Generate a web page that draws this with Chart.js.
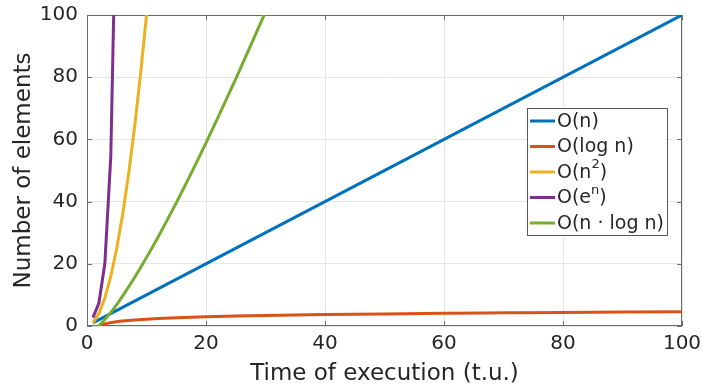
<!DOCTYPE html>
<html>
<head>
<meta charset="utf-8">
<script src="https://cdn.jsdelivr.net/npm/chart.js@4.4.0/dist/chart.umd.min.js"></script>
<style>
  html, body { margin: 0; padding: 0; background: #fff; }
  #wrap { width: 702px; height: 388px; }
</style>
</head>
<body>
<div id="wrap"><canvas id="chart" width="702" height="388"></canvas></div>
<script>
// series
const seriesLabels = ['O(n)', 'O(log n)', 'O(n²)', 'O(eⁿ)', 'O(n · log n)'];
const seriesColors = ['#0072bd', '#d95319', '#edb120', '#7e2f8e', '#77ac30'];

const linearX = [1, 100];
const linearY = [1, 100];

const logX = [2, 3, 4, 5, 6, 7, 8, 10, 12, 15, 20, 25, 30, 40, 50, 60, 70, 80, 90, 100];
const logY = [0, 0.69, 1.1, 1.39, 1.61, 1.79, 1.95, 2.2, 2.4, 2.64, 2.94, 3.18, 3.37, 3.66, 3.89, 4.08, 4.23, 4.37, 4.49, 4.6];

const squareX = [1, 2, 3, 4, 5, 6, 7, 8, 9, 10, 11];
const squareY = [1, 4, 9, 16, 25, 36, 49, 64, 81, 100, 121];

const expX = [1, 2, 3, 4, 5];
const expY = [2.7, 7.4, 20.1, 54.6, 148.4];

const nlogX = [2, 3, 4, 5, 6, 8, 10, 12, 15, 18, 20, 22, 25, 28, 30];
const nlogY = [0, 2.1, 4.4, 6.9, 9.7, 15.6, 22, 28.8, 39.6, 51, 58.9, 67, 79.5, 92.3, 101];

const xTicks = [0, 20, 40, 60, 80, 100];
const yTicks = [0, 20, 40, 60, 80, 100];

const textColor = '#262626';
const fontFamily = '"DejaVu Sans", sans-serif';

function toPoints(xs, ys) {
    return xs.map((x, i) => ({ x, y: ys[i] }));
}

const seriesData = [
    toPoints(linearX, linearY),
    toPoints(logX, logY),
    toPoints(squareX, squareY),
    toPoints(expX, expY),
    toPoints(nlogX, nlogY)
];

// MATLAB style box with inward ticks
const axesBox = {
    id: 'axesBox',
    beforeDatasetsDraw(chart) {
        const { ctx, chartArea: a, scales: { x, y } } = chart;
        const tick = 5;
        ctx.save();
        ctx.strokeStyle = '#6b6b6b';
        ctx.lineWidth = 1;
        ctx.strokeRect(a.left + 0.5, a.top + 0.5, a.right - a.left - 1, a.bottom - a.top - 1);
        ctx.beginPath();
        xTicks.forEach(v => {
            const px = Math.round(x.getPixelForValue(v)) + 0.5;
            ctx.moveTo(px, a.bottom); ctx.lineTo(px, a.bottom - tick);
            ctx.moveTo(px, a.top); ctx.lineTo(px, a.top + tick);
        });
        yTicks.forEach(v => {
            const py = Math.round(y.getPixelForValue(v)) + 0.5;
            ctx.moveTo(a.left, py); ctx.lineTo(a.left + tick, py);
            ctx.moveTo(a.right, py); ctx.lineTo(a.right - tick, py);
        });
        ctx.stroke();
        ctx.restore();
    }
};

function drawLabel(ctx, text, x, y, size) {
    const base = `${size}px ${fontFamily}`;
    const small = `${Math.round(size * 0.7)}px ${fontFamily}`;
    const sups = { '²': '2', 'ⁿ': 'n' };
    let cx = x;
    for (const ch of text) {
        if (sups[ch]) {
            ctx.font = small;
            ctx.fillText(sups[ch], cx, y - size * 0.42);
            cx += ctx.measureText(sups[ch]).width;
            ctx.font = base;
        } else {
            ctx.font = base;
            ctx.fillText(ch, cx, y);
            cx += ctx.measureText(ch).width;
        }
    }
}

const boxLegend = {
    id: 'boxLegend',
    afterDatasetsDraw(chart) {
        const { ctx } = chart;
        const box = { left: 527, top: 108, width: 140, height: 127 };
        const rowStart = 121, rowGap = 25.5;
        ctx.save();
        ctx.fillStyle = '#fff';
        ctx.fillRect(box.left, box.top, box.width, box.height);
        ctx.strokeStyle = '#5a5a5a';
        ctx.lineWidth = 1;
        ctx.strokeRect(box.left + 0.5, box.top + 0.5, box.width, box.height);
        ctx.textBaseline = 'middle';
        ctx.textAlign = 'left';
        chart.data.datasets.forEach((ds, i) => {
            const ry = rowStart + i * rowGap;
            ctx.strokeStyle = ds.borderColor;
            ctx.lineWidth = 3;
            ctx.beginPath();
            ctx.moveTo(530, ry);
            ctx.lineTo(555, ry);
            ctx.stroke();
            ctx.fillStyle = textColor;
            drawLabel(ctx, ds.label, 557, ry + 1, 19);
        });
        ctx.restore();
    }
};

function noPad(scale) {
    scale.paddingLeft = 0;
    scale.paddingRight = 0;
    scale.paddingTop = 0;
    scale.paddingBottom = 0;
}

const ctx = document.getElementById('chart').getContext('2d');
new Chart(ctx, {
    type: 'scatter',
    data: {
        datasets: seriesLabels.map((label, i) => ({
            label,
            data: seriesData[i],
            showLine: true,
            borderColor: seriesColors[i],
            backgroundColor: seriesColors[i],
            borderWidth: 3,
            pointRadius: 0,
            pointHoverRadius: 0,
            tension: 0,
            cubicInterpolationMode: (i === 1 || i === 4) ? 'monotone' : 'default',
            order: seriesLabels.length - i
        }))
    },
    options: {
        responsive: false,
        animation: false,
        layout: { padding: { top: 15, right: 20, left: 0, bottom: 0 } },
        plugins: { legend: { display: false }, tooltip: { enabled: false } },
        scales: {
            x: {
                type: 'linear', min: 0, max: 100,
                afterFit(scale) { scale.height = 62; noPad(scale); },
                afterBuildTicks(scale) { scale.ticks = xTicks.map(v => ({ value: v })); },
                grid: { color: '#e5e5e5', drawTicks: false },
                border: { display: false },
                ticks: { padding: 6, color: textColor, font: { family: fontFamily, size: 20 } },
                title: { display: true, text: 'Time of execution (t.u.)', color: textColor,
                         font: { family: fontFamily, size: 23 }, padding: { top: 0, bottom: 0 } }
            },
            y: {
                type: 'linear', min: 0, max: 100,
                afterFit(scale) { scale.width = 87; noPad(scale); },
                afterBuildTicks(scale) { scale.ticks = yTicks.map(v => ({ value: v })); },
                grid: { color: '#e5e5e5', drawTicks: false },
                border: { display: false },
                ticks: { padding: 9, color: textColor, font: { family: fontFamily, size: 20 } },
                title: { display: true, text: 'Number of elements', color: textColor,
                         font: { family: fontFamily, size: 23 }, padding: { top: 10, bottom: 0 } }
            }
        }
    },
    plugins: [axesBox, boxLegend]
});
</script>
</body>
</html>
